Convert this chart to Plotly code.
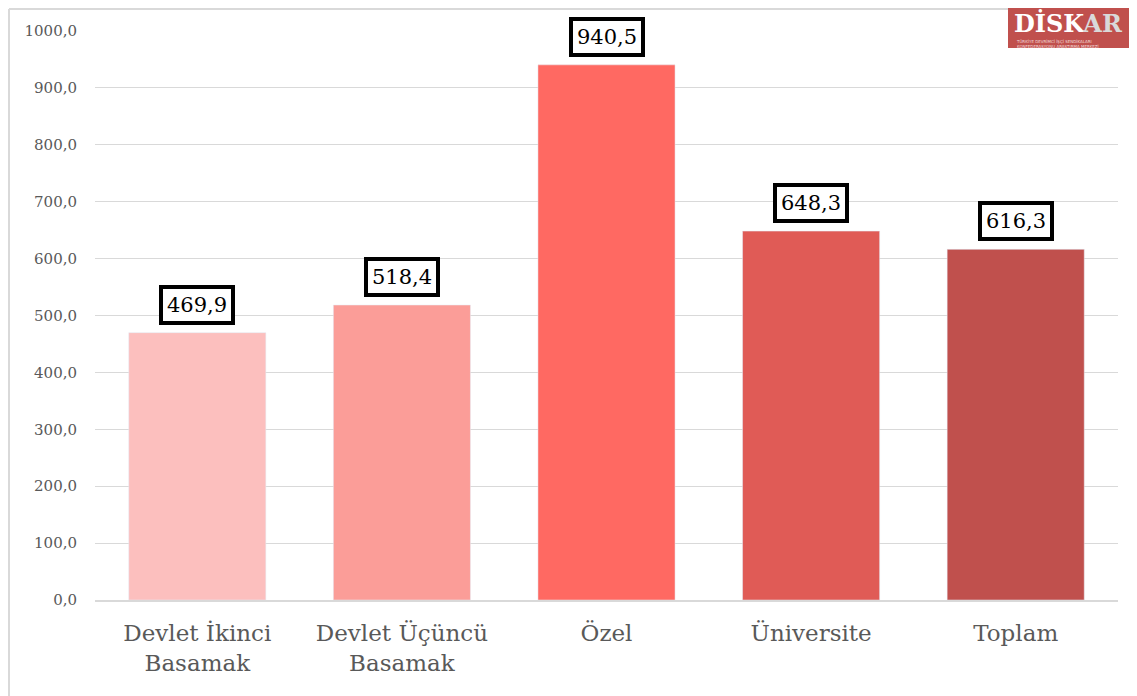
import plotly.graph_objects as go

# Veriler
kategoriler = ["Devlet İkinci<br>Basamak", "Devlet Üçüncü<br>Basamak", "Özel", "Üniversite", "Toplam"]
degerler = [469.9, 518.4, 940.5, 648.3, 616.3]
renkler = ["#FCBFBE", "#FB9D98", "#FF6962", "#E05B56", "#C0504D"]
etiketler = [f"{v:.1f}".replace(".", ",") for v in degerler]
y_ticks = list(range(0, 1001, 100))
y_tick_text = [f"{t},0" for t in y_ticks]

W, H = 1129, 688
ML, MR, MT, MB = 87, 19, 23, 96
pw, ph = W - ML - MR, H - MT - MB


def px(fx):
    return (fx - ML) / pw


def py(fy):
    return 1 + (MT - fy) / ph


fig = go.Figure()
fig.add_trace(go.Bar(x=kategoriler, y=degerler, marker_color=renkler, width=0.67))

# Etiket kutuları
for k, v, e in zip(kategoriler, degerler, etiketler):
    fig.add_annotation(x=k, y=v, text=e, showarrow=False, yanchor="bottom", yshift=8,
                       font=dict(family="DejaVu Serif", size=21, color="black"),
                       bgcolor="white", bordercolor="black", borderwidth=4, borderpad=4)

# Logo
fig.add_shape(type="rect", xref="paper", yref="paper", x0=px(1000), x1=px(W), y0=py(40), y1=py(0),
              fillcolor="#C0504D", line=dict(width=0), layer="above")
fig.add_annotation(xref="paper", yref="paper", x=px(1005), y=py(0), xanchor="left", yanchor="top",
                   text="<b>DİSK<span style='color:#D9D9D9'>AR</span></b>", showarrow=False,
                   font=dict(family="DejaVu Serif", size=24, color="white"), borderpad=0)
fig.add_annotation(xref="paper", yref="paper", x=px(1007), y=py(30), xanchor="left", yanchor="top",
                   align="left", borderpad=0,
                   text="TÜRKİYE DEVRİMCİ İŞÇİ SENDİKALARI<br>KONFEDERASYONU ARAŞTIRMA MERKEZİ",
                   showarrow=False, font=dict(family="DejaVu Sans", size=4, color="#F2DCDB"))

# Dış çerçeve (sol ve üst)
fig.add_shape(type="line", xref="paper", yref="paper", x0=px(1), x1=px(1),
              y0=py(H), y1=py(1), line=dict(color="#D9D9D9", width=2))
fig.add_shape(type="line", xref="paper", yref="paper", x0=px(1), x1=px(1000),
              y0=py(1), y1=py(1), line=dict(color="#D9D9D9", width=2))

fig.update_layout(
    width=W, height=H,
    margin=dict(l=ML, r=MR, t=MT, b=MB),
    plot_bgcolor="white", paper_bgcolor="white",
    showlegend=False,
    font=dict(family="DejaVu Serif"),
    xaxis=dict(tickfont=dict(family="DejaVu Serif", size=23, color="#595959"), showline=True,
               linecolor="#D9D9D9", linewidth=1.5, ticks="", ticklabelstandoff=12),
    yaxis=dict(range=[0, 1000], tickvals=y_ticks, ticktext=y_tick_text,
               tickfont=dict(family="DejaVu Serif", size=15, color="#595959"),
               showgrid=True, gridcolor="#D9D9D9", gridwidth=1, zeroline=False, ticks="",
               ticklabelstandoff=17),
)

fig.write_html("out.html")
